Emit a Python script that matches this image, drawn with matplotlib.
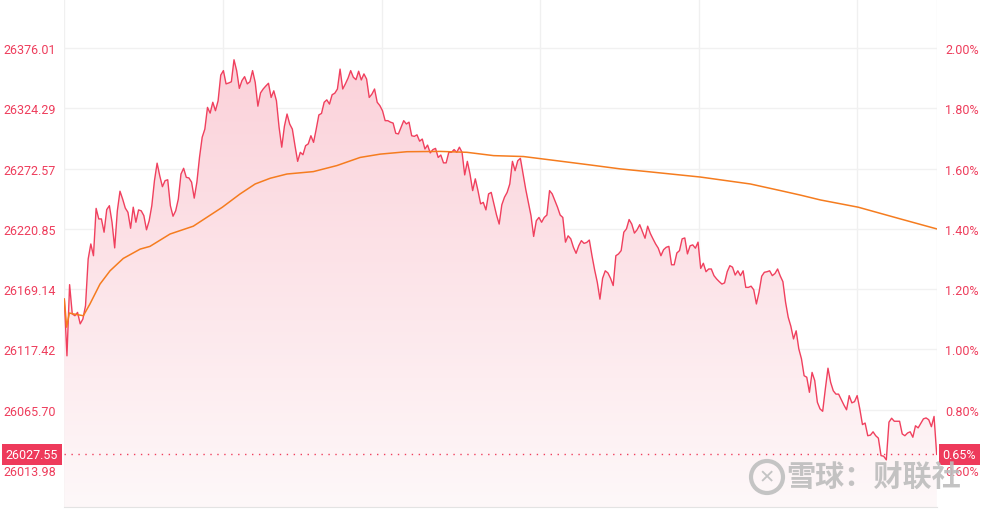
import numpy as np
import matplotlib
matplotlib.use("Agg")
import matplotlib.pyplot as plt
from matplotlib.patches import Polygon, Ellipse
from matplotlib.ticker import FixedLocator, FuncFormatter

plt.rcParams['font.family'] = ['Roboto', 'Noto Sans CJK SC', 'DejaVu Sans']

# ---------------- data ----------------
prev_close = 25858.83
last_price = 26027.55
session_minutes = 330          # 09:30-12:00, 13:00-16:00
grid_minutes = [0, 60, 120, 180, 240, 300, 330]
pct_ticks = [0.60, 0.80, 1.00, 1.20, 1.40, 1.60, 1.80, 2.00]

# intraday change (%) per minute
price_pct = [
    1.167, 0.979, 1.215, 1.118, 1.112, 1.123, 1.085, 1.101, 1.145, 1.300,
    1.350, 1.311, 1.468, 1.433, 1.433, 1.389, 1.464, 1.477, 1.422, 1.337,
    1.460, 1.525, 1.499, 1.469, 1.455, 1.402, 1.472, 1.422, 1.463, 1.460,
    1.444, 1.397, 1.427, 1.477, 1.560, 1.618, 1.576, 1.540, 1.560, 1.563,
    1.477, 1.442, 1.460, 1.499, 1.582, 1.601, 1.571, 1.569, 1.555, 1.502,
    1.555, 1.638, 1.704, 1.731, 1.803, 1.784, 1.820, 1.792, 1.825, 1.910,
    1.925, 1.881, 1.884, 1.888, 1.961, 1.925, 1.866, 1.892, 1.905, 1.881,
    1.888, 1.925, 1.886, 1.807, 1.851, 1.864, 1.874, 1.883, 1.836, 1.858,
    1.825, 1.737, 1.671, 1.740, 1.781, 1.748, 1.731, 1.676, 1.624, 1.654,
    1.646, 1.676, 1.682, 1.709, 1.687, 1.731, 1.778, 1.783, 1.820, 1.828,
    1.814, 1.845, 1.850, 1.864, 1.930, 1.864, 1.881, 1.900, 1.925, 1.903,
    1.895, 1.923, 1.894, 1.914, 1.897, 1.836, 1.847, 1.864, 1.820, 1.809,
    1.792, 1.759, 1.759, 1.754, 1.751, 1.717, 1.715, 1.737, 1.759, 1.748,
    1.754, 1.709, 1.707, 1.712, 1.691, 1.698, 1.665, 1.678, 1.652, 1.663,
    1.667, 1.637, 1.645, 1.619, 1.619, 1.654, 1.654, 1.663, 1.654, 1.671,
    1.654, 1.579, 1.624, 1.582, 1.527, 1.566, 1.527, 1.483, 1.488, 1.463,
    1.516, 1.521, 1.483, 1.446, 1.416, 1.480, 1.505, 1.521, 1.549, 1.624,
    1.593, 1.626, 1.634, 1.582, 1.532, 1.488, 1.444, 1.375, 1.427, 1.438,
    1.422, 1.438, 1.446, 1.527, 1.516, 1.494, 1.472, 1.446, 1.438, 1.356,
    1.377, 1.367, 1.339, 1.319, 1.344, 1.361, 1.352, 1.355, 1.363, 1.311,
    1.264, 1.223, 1.167, 1.236, 1.261, 1.254, 1.236, 1.212, 1.311, 1.317,
    1.328, 1.389, 1.400, 1.431, 1.416, 1.386, 1.397, 1.414, 1.391, 1.369,
    1.409, 1.385, 1.367, 1.350, 1.336, 1.311, 1.331, 1.339, 1.342, 1.281,
    1.281, 1.320, 1.328, 1.367, 1.370, 1.317, 1.344, 1.347, 1.336, 1.356,
    1.269, 1.286, 1.258, 1.267, 1.267, 1.245, 1.234, 1.225, 1.217, 1.221,
    1.258, 1.278, 1.273, 1.247, 1.261, 1.245, 1.261, 1.206, 1.206, 1.210,
    1.198, 1.151, 1.190, 1.243, 1.256, 1.258, 1.261, 1.245, 1.252, 1.267,
    1.244, 1.225, 1.157, 1.107, 1.077, 1.035, 1.062, 1.002, 0.969, 0.913,
    0.908, 0.858, 0.924, 0.897, 0.825, 0.803, 0.795, 0.869, 0.938, 0.891,
    0.863, 0.852, 0.852, 0.834, 0.816, 0.800, 0.847, 0.823, 0.827, 0.847,
    0.803, 0.751, 0.756, 0.714, 0.716, 0.727, 0.714, 0.706, 0.648, 0.646,
    0.634, 0.759, 0.772, 0.762, 0.762, 0.762, 0.720, 0.714, 0.723, 0.727,
    0.709, 0.747, 0.740, 0.755, 0.770, 0.773, 0.767, 0.744, 0.778, 0.652,
]

# average price line (minute, change %)
avg_minutes = [0, 0.9, 1.9, 3.4, 7.2, 9.7, 13.5, 17.3, 22.3, 28.7, 32.4, 40,
               48.8, 59.8, 66.5, 72.2, 77.9, 84.2, 94.2, 103.1, 111.9, 119.5,
               129.6, 142.2, 152.3, 162.4, 173.7, 186.4, 199, 210.3, 221.7,
               240.6, 259.5, 270.9, 278.5, 286, 300.3, 316.3, 330]
avg_pct = [1.167, 1.074, 1.121, 1.118, 1.112, 1.151, 1.217, 1.261, 1.302, 1.333,
           1.342, 1.383, 1.409, 1.472, 1.516, 1.549, 1.568, 1.582, 1.590, 1.610,
           1.637, 1.648, 1.656, 1.657, 1.654, 1.643, 1.640, 1.626, 1.612, 1.599,
           1.589, 1.572, 1.549, 1.527, 1.512, 1.496, 1.472, 1.433, 1.400]

# ---------------- figure ----------------
W, H = 987, 510
fig = plt.figure(figsize=(W / 100, H / 100), dpi=100)
x0, x1 = 64.3, 936.7
ax = fig.add_axes([x0 / W, 1 - 508 / H, (x1 - x0) / W, 508 / H])

RED = '#f0405e'
ORANGE = '#f57c1f'
LABEL = '#ee3d5c'

ymin, ymax = 0.4776, 2.1625
ax.set_xlim(0, session_minutes)
ax.set_ylim(ymin, ymax)

t = np.linspace(0, session_minutes, len(price_pct))
p = np.array(price_pct)

# gradient fill below line
frac = np.linspace(0, 1, 256)[:, None]
top = np.array([251, 210, 218]) / 255.0
bot = np.array([254, 248, 249]) / 255.0
grad = np.ones((256, 1, 4))
grad[:, 0, :3] = bot + (top - bot) * frac
img = ax.imshow(grad, extent=[0, session_minutes, ymin, 1.95], origin='lower',
                aspect='auto', zorder=1, interpolation='bicubic')
verts = [(t[0], ymin)] + list(zip(t, p)) + [(t[-1], ymin)]
poly = Polygon(verts, closed=True, facecolor='none', edgecolor='none',
               transform=ax.transData)
ax.add_patch(poly)
img.set_clip_path(poly)

# grid
for gm in grid_minutes:
    ax.axvline(gm, color='#f0f0f0', lw=1, zorder=0.5)
for pt in pct_ticks:
    ax.axhline(pt, color='#f1f1f1', lw=1, zorder=0.5)

ax.plot(t, p, color=RED, lw=1.0, zorder=3)
ax.plot(avg_minutes, avg_pct, color=ORANGE, lw=1.1, zorder=3)

last_pct = (last_price / prev_close - 1) * 100
ax.axhline(last_pct, color=RED, lw=1, ls=(0, (1, 4)), zorder=2)

for s in ['top', 'left', 'right']:
    ax.spines[s].set_visible(False)
ax.spines['bottom'].set_color('#e3e3e3')
ax.set_xticks([])

ax.yaxis.set_major_locator(FixedLocator(pct_ticks))
ax.yaxis.set_major_formatter(FuncFormatter(lambda v, _: f"{prev_close * (1 + v / 100):.2f}"))
ax.tick_params(axis='y', length=0, pad=6, labelsize=9, labelcolor=LABEL)

ax2 = ax.twinx()
ax2.set_ylim(ymin, ymax)
ax2.yaxis.set_major_locator(FixedLocator(pct_ticks))
ax2.yaxis.set_major_formatter(FuncFormatter(lambda v, _: f"{v:.2f}%"))
ax2.tick_params(axis='y', length=0, pad=6, labelsize=9, labelcolor=LABEL)
for s in ax2.spines.values():
    s.set_visible(False)

# last price boxes
ax.annotate(f"{last_price:.2f}", xy=(0, last_pct), xycoords=('axes fraction', 'data'),
            xytext=(-4.5, 0), textcoords='offset points', ha='right', va='center',
            fontsize=9, color='white',
            bbox=dict(boxstyle='square,pad=0.3', fc='#ee3a5b', ec='none'), zorder=5,
            annotation_clip=False)
ax.annotate(f"{last_pct:.2f}%", xy=(1, last_pct), xycoords=('axes fraction', 'data'),
            xytext=(4, 0), textcoords='offset points', ha='left', va='center',
            fontsize=9, color='white',
            bbox=dict(boxstyle='square,pad=0.3', fc='#ee3a5b', ec='none'), zorder=5,
            annotation_clip=False)

# watermark
fig.text(786 / W, 1 - 478 / H, "雪球：财联社", fontsize=21, color='#bdbdbd',
         family=['Noto Sans CJK SC', 'DejaVu Sans'], va='center', ha='left', alpha=0.9,
         fontweight='bold')
logo = Ellipse((767 / W, 1 - 478 / H), 32 / W, 32 / H, transform=fig.transFigure,
               fill=False, ec='#c4c4c4', lw=3)
fig.add_artist(logo)
fig.text(767 / W, 1 - 478 / H, "✕", fontsize=14, color='#c4c4c4',
         family=['DejaVu Sans'], va='center', ha='center')

fig.savefig("out.png", dpi=100)
